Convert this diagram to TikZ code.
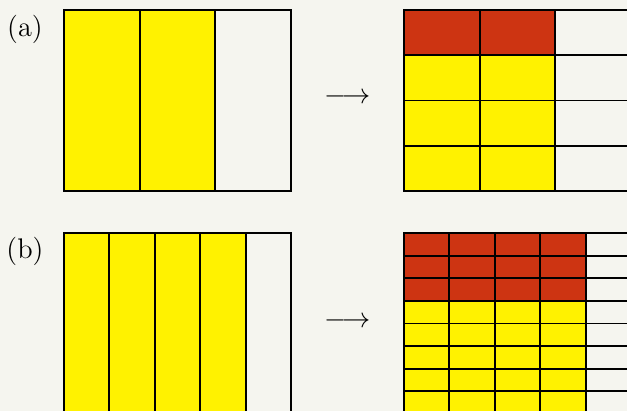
\documentclass[tikz,border=0pt]{standalone}
\definecolor{bg}{HTML}{F5F5EF}
\definecolor{yel}{HTML}{FFF200}
\definecolor{rd}{HTML}{CD3412}
\begin{document}
\begin{tikzpicture}[x=0.3876pt,y=-0.3876pt,
  gridline/.style={line width=0.75pt,black},
  outer/.style={line width=0.85pt,black},
  lbl/.style={inner sep=0pt,font=\fontsize{11}{13}\selectfont}]
\fill[bg] (0,0) rectangle (627,411);
\clip (0,0) rectangle (627,411);
% (a) left
\fill[yel] (64,10) rectangle (215.33,191);
\foreach \i in {1,2} \draw[gridline] ({64+75.667*\i},10) -- ({64+75.667*\i},191);
\draw[outer] (64,10) rectangle (291,191);
% (a) right
\fill[rd] (404,10) rectangle (555.33,55.25);
\fill[yel] (404,55.25) rectangle (555.33,191);
\foreach \i in {1,2,3} \draw[gridline] (404,{10+45.25*\i}) -- (631,{10+45.25*\i});
\foreach \i in {1,2} \draw[gridline] ({404+75.667*\i},10) -- ({404+75.667*\i},191);
\draw[outer] (404,10) rectangle (631,191);
% (b) left
\fill[yel] (64,233) rectangle (245.6,414);
\foreach \i in {1,...,4} \draw[gridline] ({64+45.4*\i},233) -- ({64+45.4*\i},414);
\draw[outer] (64,233) rectangle (291,414);
% (b) right
\fill[rd] (404,233) rectangle (585.6,300.875);
\fill[yel] (404,300.875) rectangle (585.6,414);
\foreach \i in {1,...,7} \draw[gridline] (404,{233+22.625*\i}) -- (631,{233+22.625*\i});
\foreach \i in {1,...,4} \draw[gridline] ({404+45.4*\i},233) -- ({404+45.4*\i},414);
\draw[outer] (404,233) rectangle (631,414);
% labels and arrows
\node[lbl] (la) at (25,29) {(a)};
\node[lbl] (lb) at (25,251) {(b)};
\node[lbl] (arra) at (347.5,98) {$\longrightarrow$};
\node[lbl] (arrb) at (347.5,322) {$\longrightarrow$};
\end{tikzpicture}
\end{document}
